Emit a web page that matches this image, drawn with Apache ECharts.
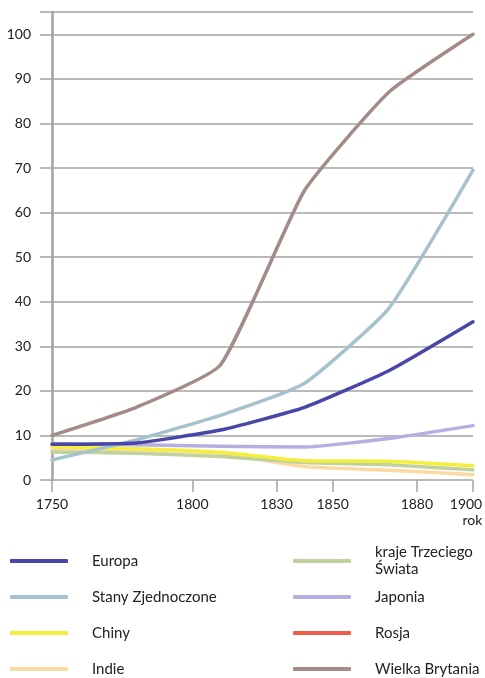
<!DOCTYPE html>
<html>
<head>
<meta charset="utf-8">
<script src="https://cdn.jsdelivr.net/npm/echarts@6/dist/echarts.min.js"></script>
<style>
  html, body { margin: 0; padding: 0; background: #fff; }
  #chart { width: 485px; height: 678px; }
</style>
</head>
<body>
<div id="chart"></div>
<script>
// data points sit at evenly spaced years, ticks are labelled separately
const years = [1750, 1780, 1810, 1840, 1870, 1900];
const tickYears = [1750, 1800, 1830, 1850, 1880, 1900];

const europa = [8, 8.3, 11.2, 16.3, 24.5, 35.5];
const stany = [4.5, 9, 14.5, 21.7, 38.5, 69.5];
const chiny = [7.5, 7, 6.2, 4.3, 4.2, 3.2];
const indie = [7, 6.8, 6, 3, 2.2, 1.2];
const trzeciSwiat = [6.3, 6, 5.3, 3.9, 3.4, 2.3];
const japonia = [8.2, 7.9, 7.6, 7.4, 9.3, 12.2];
const rosja = [];
const wielkaBrytania = [10, 16.3, 25.8, 65, 87, 100];

const names = {
  europa: "Europa",
  stany: "Stany Zjednoczone",
  chiny: "Chiny",
  indie: "Indie",
  trzeci: "kraje Trzeciego\nŚwiata",
  japonia: "Japonia",
  rosja: "Rosja",
  wb: "Wielka Brytania",
};

const colors = {
  europa: "#4846a6",
  stany: "#a6c2cd",
  chiny: "#f4ef3c",
  indie: "#fbd9a2",
  trzeci: "#bfd19c",
  japonia: "#b5aee0",
  rosja: "#ef5f47",
  wb: "#a38c88",
};

function pairs(values) {
  return values.map((v, i) => [years[i], v]);
}

function line(key, values) {
  return {
    name: names[key],
    type: "line",
    smooth: 0.15,
    symbol: "none",
    data: pairs(values),
    lineStyle: { color: colors[key], width: 3.5, cap: "round", join: "round" },
    itemStyle: { color: colors[key] },
  };
}

const font = "Lato, 'Open Sans', sans-serif";
const gridColor = "#a3a3a3";

const legendBase = {
  orient: "vertical",
  top: 544,
  height: 200,
  padding: 0,
  itemWidth: 58,
  itemHeight: 4,
  itemGap: 2,
  icon: "roundRect",
  textStyle: {
    fontFamily: font,
    fontSize: 15,
    color: "#222",
    lineHeight: 17,
    height: 34,
    padding: [0, 0, 0, 19],
  },
};

const chart = echarts.init(document.getElementById("chart"));
chart.setOption({
  animation: false,
  grid: { left: 52, right: 12, top: 12, bottom: 198, outerBoundsMode: "none", containLabel: false },
  legend: [
    Object.assign({}, legendBase, {
      left: 10,
      data: [names.europa, names.stany, names.chiny, names.indie],
    }),
    Object.assign({}, legendBase, {
      left: 293,
      data: [names.trzeci, names.japonia, names.rosja, names.wb],
    }),
  ],
  xAxis: {
    type: "value",
    min: 1750,
    max: 1900,
    axisLine: { show: false },
    splitLine: { show: false },
    axisTick: {
      show: true,
      length: 12,
      customValues: tickYears,
      lineStyle: { color: gridColor, width: 1.5 },
    },
    axisLabel: {
      customValues: tickYears,
      margin: 16,
      fontFamily: font,
      fontSize: 14,
      color: "#222",
      lineHeight: 16,
      formatter: (v) => (v === 1900 ? "{r|1900}\n{r|rok}" : String(v)),
      rich: {
        r: { align: "right", padding: [0, 14, 0, 0], fontFamily: font, fontSize: 14, color: "#222", lineHeight: 16 },
      },
    },
  },
  yAxis: {
    type: "value",
    min: 0,
    max: 105,
    interval: 10,
    axisLine: { show: true, lineStyle: { color: gridColor, width: 2.5 } },
    axisTick: { show: true, length: 12, lineStyle: { color: gridColor, width: 1.5 } },
    splitLine: { lineStyle: { color: gridColor, width: 1.5 } },
    axisLabel: {
      margin: 21,
      fontFamily: font,
      fontSize: 14,
      color: "#222",
      formatter: (v) => (v > 100 ? "" : String(v)),
    },
  },
  series: [
    line("rosja", rosja),
    line("indie", indie),
    line("trzeci", trzeciSwiat),
    line("chiny", chiny),
    line("japonia", japonia),
    line("stany", stany),
    line("europa", europa),
    line("wb", wielkaBrytania),
  ],
});
</script>
</body>
</html>
